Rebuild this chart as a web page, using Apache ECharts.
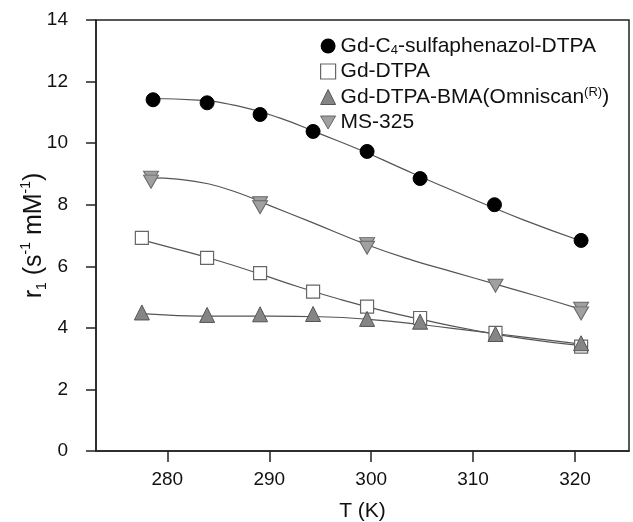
<!DOCTYPE html>
<html><head><meta charset="utf-8">
<script src="https://cdn.jsdelivr.net/npm/echarts@6/dist/echarts.min.js"></script>
<style>html,body{margin:0;padding:0;background:#fff}#c{width:633px;height:522px}</style>
</head><body><div id="c"></div>
<script>
var xTicks = [280, 290, 300, 310, 320];
// measured points
var circT = [278.6, 283.9, 289.1, 294.3, 299.6, 304.8, 312.1, 320.6];
var circR = [11.41, 11.31, 10.93, 10.38, 9.73, 8.85, 8.0, 6.84];
var sqT = [277.5, 283.9, 289.1, 294.3, 299.6, 304.8, 312.2, 320.6];
var sqR = [6.92, 6.27, 5.78, 5.18, 4.69, 4.32, 3.84, 3.39];
var upT = [277.5, 283.9, 289.1, 294.3, 299.6, 304.8, 312.2, 320.6];
var upR = [4.5, 4.42, 4.44, 4.45, 4.29, 4.2, 3.8, 3.5];
var dnT = [278.4, 278.4, 289.1, 289.1, 299.6, 299.6, 312.2, 320.6, 320.6];
var dnR = [8.88, 8.75, 8.05, 7.92, 6.72, 6.6, 5.37, 4.62, 4.47];
// fitted curves
var circFitT = [278.6, 283, 287, 291, 295, 299, 303, 307, 311, 315, 320.6];
var circFitR = [11.45, 11.4, 11.2, 10.82, 10.3, 9.77, 9.18, 8.6, 8.04, 7.5, 6.82];
var sqFitT = [277.5, 281, 285, 289, 293, 297, 301, 305, 310, 315, 320.6];
var sqFitR = [6.86, 6.55, 6.18, 5.76, 5.32, 4.92, 4.57, 4.27, 3.93, 3.65, 3.42];
var upFitT = [277.5, 281, 285, 290, 295, 300, 305, 310, 315, 320.6];
var upFitR = [4.46, 4.4, 4.38, 4.38, 4.36, 4.27, 4.1, 3.9, 3.7, 3.47];
var dnFitT = [278.4, 281, 284, 287, 290, 294, 299.6, 304, 308, 312.2, 316, 320.6];
var dnFitR = [8.87, 8.83, 8.68, 8.38, 7.98, 7.45, 6.7, 6.2, 5.82, 5.42, 5.06, 4.6];
var names = ['Gd-C4-sulfaphenazol-DTPA', 'Gd-DTPA', 'Gd-DTPA-BMA(Omniscan(R))', 'MS-325'];

function pairs(a, b) { return a.map(function (v, i) { return [v, b[i]]; }); }
var downTri = 'path://M0,0 L10,0 L5,8.66 Z';
var font = 'Liberation Sans, Arial, sans-serif';
var lineCol = '#555';
var circStyle = { color: '#000', borderColor: '#000', opacity: 1 };
var sqStyle = { color: '#fff', borderColor: '#666', borderWidth: 1.2, opacity: 1 };
var upStyle = { color: '#858585', borderColor: '#555', borderWidth: 1, opacity: 1 };
var dnStyle = { color: '#a0a0a0', borderColor: '#666', borderWidth: 1, opacity: 1 };
function fit(t, r) {
  return { type: 'line', smooth: 0.5, data: pairs(t, r), symbol: 'none',
    lineStyle: { color: lineCol, width: 1.2 }, z: 2, silent: true };
}

var chart = echarts.init(document.getElementById('c'));
chart.setOption({
  animation: false,
  grid: { left: 96, right: 4, top: 20, bottom: 71, show: true, borderColor: '#222', borderWidth: 1.5,
          containLabel: false, outerBoundsMode: 'none' },
  legend: {
    orient: 'vertical', left: 315, top: 30, itemGap: 3.5, itemWidth: 15, itemHeight: 15,
    data: [
      { name: names[0], icon: 'circle', itemStyle: circStyle },
      { name: names[1], icon: 'rect', itemStyle: sqStyle },
      { name: names[2], icon: 'triangle', itemStyle: upStyle },
      { name: names[3], icon: downTri, itemStyle: dnStyle }
    ],
    textStyle: { fontFamily: font, fontSize: 21, lineHeight: 22, color: '#111',
      rich: { s: { fontSize: 13, fontFamily: font, color: '#111', verticalAlign: 'bottom', lineHeight: 22, padding: [9, 0, 0, 0] },
              p: { fontSize: 13, fontFamily: font, color: '#111', verticalAlign: 'top', lineHeight: 22, padding: [0, 0, 9, 0] } } },
    formatter: function (n) {
      if (n === names[0]) return 'Gd-C{s|4}-sulfaphenazol-DTPA';
      if (n === names[2]) return 'Gd-DTPA-BMA(Omniscan{p|(R)})';
      return n;
    }
  },
  xAxis: {
    type: 'value', min: 273, max: 325.3,
    name: 'T (K)', nameLocation: 'middle', nameGap: 50, nameMoveOverlap: false,
    nameTextStyle: { fontFamily: font, fontSize: 21, color: '#111' },
    axisLine: { onZero: false, lineStyle: { color: '#222', width: 1.5 } },
    axisTick: { show: true, inside: false, length: 11, customValues: xTicks, lineStyle: { color: '#222', width: 1.5 } },
    axisLabel: { customValues: xTicks, fontFamily: font, fontSize: 19, color: '#111', margin: 19 },
    splitLine: { show: false }
  },
  yAxis: {
    type: 'value', min: 0, max: 14, interval: 2,
    name: 'r{s|1} (s{p|-1} mM{p|-1})', nameLocation: 'middle', nameGap: 47, nameMoveOverlap: false,
    nameTextStyle: { fontFamily: font, fontSize: 25, color: '#111', lineHeight: 30,
      rich: { s: { fontSize: 14, fontFamily: font, color: '#111', verticalAlign: 'bottom', lineHeight: 30, padding: [11, 0, 0, 0] },
              p: { fontSize: 14, fontFamily: font, color: '#111', verticalAlign: 'top', lineHeight: 30, padding: [0, 0, 11, 0] } } },
    axisLine: { show: true, lineStyle: { color: '#222', width: 1.5 } },
    axisTick: { show: true, inside: false, length: 10, lineStyle: { color: '#222', width: 1.5 } },
    axisLabel: { fontFamily: font, fontSize: 19, color: '#111', margin: 28 },
    splitLine: { show: false }
  },
  series: [
    fit(circFitT, circFitR),
    fit(sqFitT, sqFitR),
    fit(upFitT, upFitR),
    fit(dnFitT, dnFitR),
    { name: names[1], type: 'scatter', data: pairs(sqT, sqR), symbol: 'rect', symbolSize: 13, itemStyle: sqStyle, z: 3 },
    { name: names[2], type: 'scatter', data: pairs(upT, upR), symbol: 'triangle', symbolSize: 15, itemStyle: upStyle, z: 4 },
    { name: names[3], type: 'scatter', data: pairs(dnT, dnR), symbol: downTri, symbolSize: [15, 13], itemStyle: dnStyle, z: 4 },
    { name: names[0], type: 'scatter', data: pairs(circT, circR), symbol: 'circle', symbolSize: 14, itemStyle: circStyle, z: 5 }
  ]
});
</script></body></html>
